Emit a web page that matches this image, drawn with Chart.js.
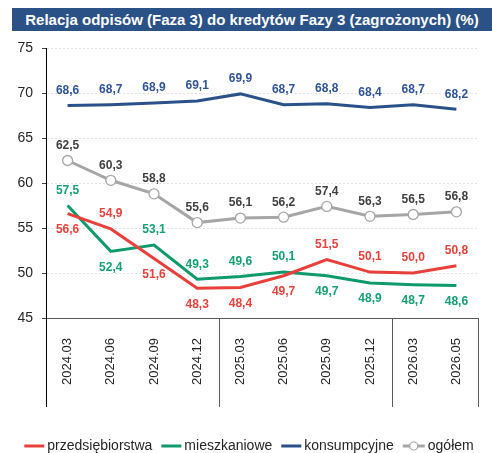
<!DOCTYPE html>
<html lang="pl">
<head>
<meta charset="UTF-8">
<title>Relacja odpisów (Faza 3) do kredytów Fazy 3</title>
<script src="https://cdn.jsdelivr.net/npm/chart.js@4.4.0/dist/chart.umd.min.js"></script>
<style>
    html, body {
        margin: 0;
        padding: 0;
        background: #fff;
    }

    .wrap {
        position: relative;
        width: 492px;
        height: 453px;
    }

    .title {
        position: absolute;
        left: 12px;
        top: 8px;
        width: 480px;
        height: 23px;
        background: #2B5287;
        color: #fff;
        font: bold 15px 'Liberation Sans', Arial, sans-serif;
        line-height: 23px;
        text-align: center;
        z-index: 2;
    }

    canvas {
        position: absolute;
        left: 0;
        top: 0;
    }
</style>
</head>
<body>
<div class="wrap">
    <div class="title">Relacja odpisów (Faza 3) do kredytów Fazy 3 (zagrożonych) (%)</div>
    <canvas id="chart" width="492" height="453"></canvas>
</div>

<script>
    // data
    const quarters = ['2024.03', '2024.06', '2024.09', '2024.12', '2025.03', '2025.06', '2025.09', '2025.12', '2026.03', '2026.05'];
    const przedsiebiorstwa = [56.6, 54.9, 51.6, 48.3, 48.4, 49.7, 51.5, 50.1, 50.0, 50.8];
    const mieszkaniowe = [57.5, 52.4, 53.1, 49.3, 49.6, 50.1, 49.7, 48.9, 48.7, 48.6];
    const konsumpcyjne = [68.6, 68.7, 68.9, 69.1, 69.9, 68.7, 68.8, 68.4, 68.7, 68.2];
    const ogolem = [62.5, 60.3, 58.8, 55.6, 56.1, 56.2, 57.4, 56.3, 56.5, 56.8];
    const yMin = 45, yMax = 75, yStep = 5;
    // year groups on the x axis: separators after these indexes
    const yearBreaks = [3, 7];

    const FONT = "'Liberation Sans', Arial, sans-serif";
    const fmt = v => v.toFixed(1).replace('.', ',');

    // where each value label sits: 'a' above, 'b' below
    const labelSide = {
        przedsiebiorstwa: ['b', 'a', 'b', 'b', 'b', 'b', 'a', 'a', 'a', 'a'],
        mieszkaniowe:     ['a', 'b', 'a', 'a', 'a', 'a', 'b', 'b', 'b', 'b'],
        konsumpcyjne:     ['a', 'a', 'a', 'a', 'a', 'a', 'a', 'a', 'a', 'a'],
        ogolem:           ['a', 'a', 'a', 'a', 'a', 'a', 'a', 'a', 'a', 'a']
    };

    const valueLabels = {
        id: 'valueLabels',
        afterDatasetsDraw(chart) {
            const ctx = chart.ctx;
            ctx.save();
            ctx.font = 'bold 12px ' + FONT;
            ctx.textAlign = 'center';
            ctx.textBaseline = 'middle';
            chart.data.datasets.forEach((ds, i) => {
                const meta = chart.getDatasetMeta(i);
                const sides = labelSide[ds.key];
                ctx.fillStyle = ds.labelColor;
                meta.data.forEach((pt, j) => {
                    const dy = sides[j] === 'b' ? 16 : -15;
                    ctx.fillText(fmt(ds.data[j]), pt.x, pt.y + dy);
                });
            });
            ctx.restore();
        }
    };

    const yearLines = {
        id: 'yearLines',
        afterDraw(chart) {
            const ctx = chart.ctx;
            const x = chart.scales.x;
            const area = chart.chartArea;
            const bottom = area.bottom + 89;
            const xs = [area.left];
            yearBreaks.forEach(i => xs.push((x.getPixelForValue(i) + x.getPixelForValue(i + 1)) / 2));
            xs.push(area.right);
            ctx.save();
            ctx.lineWidth = 1;
            xs.forEach((px, k) => {
                ctx.strokeStyle = k === 0 ? '#000' : '#595959';
                ctx.beginPath();
                ctx.moveTo(Math.round(px) + 0.5, area.bottom);
                ctx.lineTo(Math.round(px) + 0.5, bottom);
                ctx.stroke();
            });
            ctx.restore();
        }
    };

    const lineLegend = {
        id: 'lineLegend',
        afterDraw(chart) {
            const ctx = chart.ctx;
            const y = 446;
            const sample = 20, gapText = 3, gapItem = 9;
            ctx.save();
            ctx.font = '14px ' + FONT;
            ctx.textBaseline = 'middle';
            const items = chart.data.datasets.map(ds => ({
                ds,
                w: (ds.key === 'ogolem' ? sample + 2 : sample) + gapText + ctx.measureText(ds.label).width
            }));
            const total = items.reduce((s, it) => s + it.w, 0) + gapItem * (items.length - 1);
            let x = (chart.width - total) / 2 + 3;
            items.forEach(it => {
                const ds = it.ds;
                const len = ds.key === 'ogolem' ? sample + 2 : sample;
                ctx.strokeStyle = ds.borderColor;
                ctx.lineWidth = 3;
                ctx.beginPath();
                ctx.moveTo(x, y);
                ctx.lineTo(x + len, y);
                ctx.stroke();
                if (ds.key === 'ogolem') {
                    ctx.beginPath();
                    ctx.arc(x + len / 2, y, 4, 0, Math.PI * 2);
                    ctx.fillStyle = '#fff';
                    ctx.fill();
                    ctx.lineWidth = 1.2;
                    ctx.stroke();
                }
                ctx.fillStyle = '#262626';
                ctx.fillText(ds.label, x + len + gapText, y);
                x += it.w + gapItem;
            });
            ctx.restore();
        }
    };

    new Chart(document.getElementById('chart'), {
        type: 'line',
        data: {
            labels: quarters,
            datasets: [
                {
                    key: 'przedsiebiorstwa',
                    label: 'przedsiębiorstwa',
                    data: przedsiebiorstwa,
                    borderColor: '#E8413C',
                    labelColor: '#E8413C',
                    borderWidth: 3,
                    pointRadius: 0
                },
                {
                    key: 'mieszkaniowe',
                    label: 'mieszkaniowe',
                    data: mieszkaniowe,
                    borderColor: '#0F9A6B',
                    labelColor: '#14A072',
                    borderWidth: 3,
                    pointRadius: 0
                },
                {
                    key: 'konsumpcyjne',
                    label: 'konsumpcyjne',
                    data: konsumpcyjne,
                    borderColor: '#2B5288',
                    labelColor: '#2F5597',
                    borderWidth: 3,
                    pointRadius: 0
                },
                {
                    key: 'ogolem',
                    label: 'ogółem',
                    data: ogolem,
                    borderColor: '#A6A6A6',
                    labelColor: '#404040',
                    borderWidth: 3,
                    pointRadius: 5,
                    pointBackgroundColor: '#fff',
                    pointBorderColor: '#A6A6A6',
                    pointBorderWidth: 1.3
                }
            ]
        },
        options: {
            responsive: false,
            animation: false,
            layout: { padding: { top: 48, right: 14, bottom: 46, left: 0 } },
            plugins: {
                legend: { display: false },
                tooltip: { enabled: false }
            },
            scales: {
                x: {
                    offset: true,
                    grid: { display: false },
                    border: { color: '#595959', width: 1 },
                    ticks: {
                        autoSkip: false,
                        minRotation: 90,
                        maxRotation: 90,
                        padding: 12,
                        color: '#262626',
                        font: { family: FONT, size: 13 }
                    },
                    afterFit(scale) { scale.height = 89; }
                },
                y: {
                    min: yMin,
                    max: yMax,
                    grid: {
                        color: '#E3E3E3',
                        tickColor: '#404040',
                        tickLength: 4
                    },
                    border: { color: '#000', width: 1, dash: [2, 2] },
                    ticks: {
                        stepSize: yStep,
                        padding: 9,
                        color: '#262626',
                        font: { family: FONT, size: 14 }
                    },
                    afterFit(scale) { scale.width = 46; }
                }
            }
        },
        plugins: [valueLabels, yearLines, lineLegend]
    });
</script>
</body>
</html>
